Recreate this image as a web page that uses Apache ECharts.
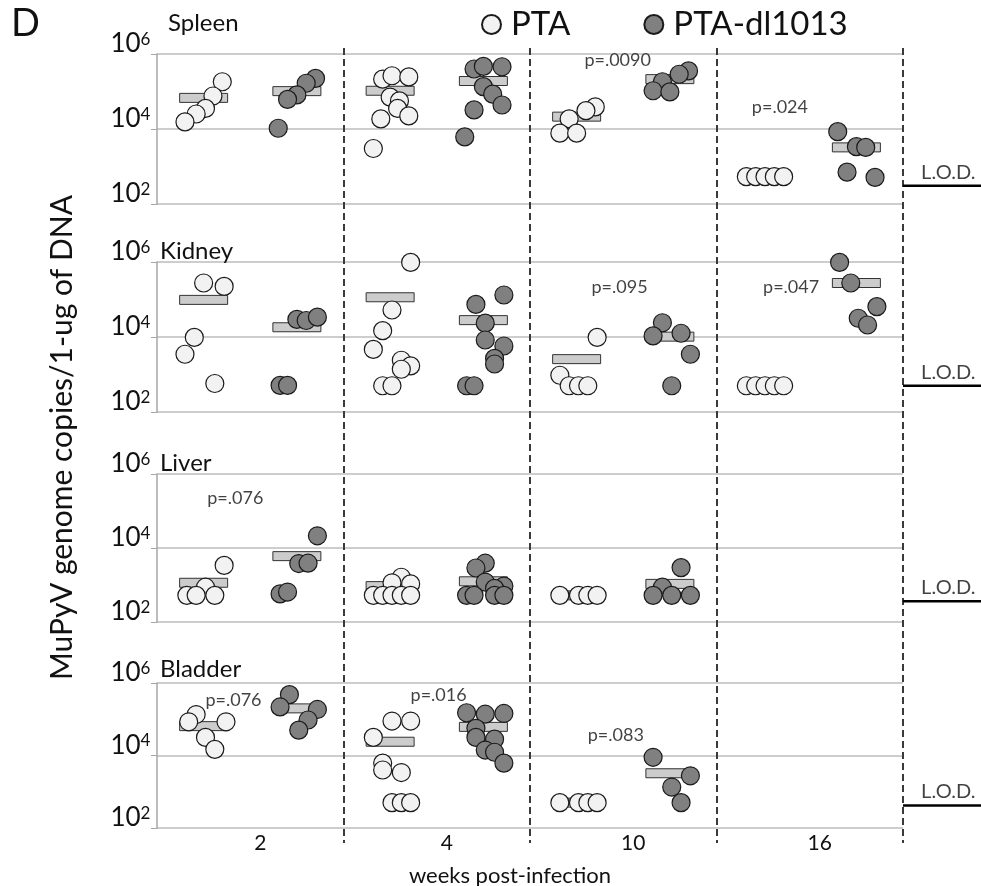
<!DOCTYPE html>
<html>
<head>
<meta charset="utf-8">
<script src="https://cdn.jsdelivr.net/npm/echarts@6/dist/echarts.min.js"></script>
<style>
  html, body { margin: 0; padding: 0; background: #fff; }
  #chart { width: 981px; height: 886px; }
</style>
</head>
<body>
<div id="chart"></div>
<script>
// weeks post-infection (x categories)
var weeks = ['2', '4', '10', '16'];
var organs = ['Spleen', 'Kidney', 'Liver', 'Bladder'];

// each mouse: [week slot + jitter, log10 genome copies]
var spleenPTA = [
  [0.35, 5.26], [0.30, 4.88], [0.26, 4.55], [0.21, 4.40], [0.15, 4.19],
  [1.21, 5.33], [1.26, 5.42], [1.35, 5.39], [1.25, 4.85], [1.30, 4.75], [1.29, 4.55], [1.35, 4.35], [1.20, 4.27], [1.16, 3.48],
  [2.35, 4.59], [2.30, 4.49], [2.21, 4.27], [2.16, 3.89], [2.25, 3.89],
  [3.16, 2.73], [3.21, 2.73], [3.26, 2.73], [3.31, 2.73], [3.36, 2.73]
];
var spleenDl = [
  [0.85, 5.35], [0.80, 5.22], [0.75, 4.91], [0.70, 4.79], [0.65, 4.02],
  [1.70, 5.60], [1.75, 5.67], [1.85, 5.66], [1.75, 5.13], [1.80, 4.93], [1.85, 4.64], [1.70, 4.51], [1.65, 3.79],
  [2.85, 5.55], [2.80, 5.46], [2.71, 5.26], [2.66, 5.02], [2.75, 4.99],
  [3.65, 3.93], [3.75, 3.53], [3.80, 3.51], [3.70, 2.85], [3.85, 2.71]
];
var kidneyPTA = [
  [0.25, 5.44], [0.36, 5.35], [0.20, 3.99], [0.15, 3.54], [0.31, 2.76],
  [1.36, 5.99], [1.26, 4.72], [1.21, 4.17], [1.16, 3.67], [1.31, 3.38], [1.36, 3.23], [1.31, 3.14], [1.21, 2.70], [1.26, 2.70],
  [2.36, 3.99], [2.16, 2.98], [2.21, 2.70], [2.26, 2.70], [2.31, 2.70],
  [3.16, 2.70], [3.21, 2.70], [3.26, 2.70], [3.31, 2.70], [3.36, 2.70]
];
var kidneyDl = [
  [0.75, 4.47], [0.80, 4.44], [0.86, 4.53], [0.66, 2.71], [0.70, 2.71],
  [1.86, 5.12], [1.71, 4.87], [1.76, 4.37], [1.76, 3.92], [1.86, 3.76], [1.81, 3.43], [1.81, 3.28], [1.66, 2.70], [1.70, 2.70],
  [2.71, 4.38], [2.66, 4.03], [2.81, 4.10], [2.86, 3.54], [2.76, 2.70],
  [3.66, 5.99], [3.72, 5.44], [3.86, 4.81], [3.76, 4.50], [3.81, 4.32]
];
var liverPTA = [
  [0.36, 3.53], [0.26, 2.94], [0.16, 2.72], [0.21, 2.72], [0.31, 2.72],
  [1.31, 3.21], [1.26, 3.06], [1.36, 3.03], [1.16, 2.72], [1.21, 2.72], [1.26, 2.72], [1.31, 2.72], [1.36, 2.72],
  [2.16, 2.72], [2.26, 2.72], [2.31, 2.72], [2.36, 2.72]
];
var liverDl = [
  [0.86, 4.33], [0.76, 3.58], [0.81, 3.59], [0.66, 2.76], [0.70, 2.81],
  [1.76, 3.59], [1.71, 3.46], [1.76, 3.08], [1.86, 2.97], [1.81, 2.91], [1.66, 2.72], [1.70, 2.72], [1.81, 2.72], [1.86, 2.72],
  [2.81, 3.47], [2.71, 2.94], [2.66, 2.72], [2.76, 2.72], [2.86, 2.72]
];
var bladderPTA = [
  [0.21, 5.13], [0.17, 4.93], [0.37, 4.93], [0.26, 4.50], [0.31, 4.17],
  [1.26, 4.95], [1.36, 4.95], [1.16, 4.50], [1.21, 3.79], [1.21, 3.60], [1.31, 3.53], [1.26, 2.70], [1.31, 2.70], [1.36, 2.70],
  [2.16, 2.70], [2.26, 2.70], [2.31, 2.70], [2.36, 2.70]
];
var bladderDl = [
  [0.71, 5.68], [0.66, 5.34], [0.86, 5.27], [0.81, 4.98], [0.76, 4.70],
  [1.66, 5.18], [1.76, 5.14], [1.86, 5.16], [1.71, 4.75], [1.71, 4.50], [1.81, 4.45], [1.76, 4.15], [1.81, 4.09], [1.86, 3.79],
  [2.66, 3.95], [2.86, 3.44], [2.76, 3.13], [2.81, 2.70]
];

// medians (log10) per week, null = none
var medianPTA = [
  [4.83, 5.02, 4.33, 2.73],
  [4.99, 5.06, 3.41, 2.70],
  [3.06, 2.97, 2.72, null],
  [4.81, 4.38, 2.70, null]
];
var medianDl = [
  [5.01, 5.28, 5.33, 3.51],
  [4.26, 4.45, 4.01, 5.44],
  [3.78, 3.10, 3.03, null],
  [5.30, 4.79, 3.51, null]
];

// limit of detection (log10) per organ
var lodLog10 = [2.49, 2.70, 2.56, 2.62];

// p-values: [x, log10, text]
var pValues = [
  [[2.47, 5.84, 'p=.0090'], [3.34, 4.59, 'p=.024']],
  [[2.48, 5.34, 'p=.095'], [3.40, 5.34, 'p=.047']],
  [[0.42, 5.35, 'p=.076']],
  [[0.41, 5.52, 'p=.076'], [1.51, 5.66, 'p=.016'], [2.46, 4.56, 'p=.083']]
];

var pointsPTA = [spleenPTA, kidneyPTA, liverPTA, bladderPTA];
var pointsDl = [spleenDl, kidneyDl, liverDl, bladderDl];

var FONT = 'Lato, "Open Sans", sans-serif';
var tops = [54, 262, 474, 683];
var heights = [150, 150, 148, 145];
var titleTops = [6, 234, 446, 652];
var titleLefts = [163, 155, 155, 155];

var grids = [], xAxes = [], yAxes = [], series = [];
var titles = [{ text: 'D', left: 6, top: 0, textStyle: { fontSize: 38, fontWeight: 'normal', fontFamily: FONT, color: '#111' } }];

function medianData(arr, off) {
  var out = [];
  arr.forEach(function (v, k) { if (v != null) out.push([k + off, v]); });
  return out;
}

// median bar: fixed-size box centred on the data point
function renderMedian(params, api) {
  var c = api.coord([api.value(0), api.value(1)]);
  return {
    type: 'rect',
    shape: { x: c[0] - 24, y: c[1] - 4.5, width: 48, height: 9 },
    style: { fill: '#cccccc', stroke: '#333', lineWidth: 1 }
  };
}

for (var i = 0; i < 4; i++) {
  grids.push({ left: 157, right: 78, top: tops[i], height: heights[i], outerBoundsMode: 'none' });
  xAxes.push({ type: 'value', gridIndex: i, min: 0, max: 4, show: false });
  yAxes.push({
    type: 'value', gridIndex: i, min: 2, max: 6, interval: 2,
    axisLine: { show: true, lineStyle: { color: '#a6a6a6', width: 1.5 } },
    axisTick: { show: true, length: 6, lineStyle: { color: '#a6a6a6', width: 1 } },
    splitLine: { show: true, lineStyle: { color: '#bdbdbd', width: 1.5 } },
    axisLabel: {
      margin: 6,
      // t is an invisible spacer that lifts the label above the tick
      formatter: function (v) { return '{b|10}{s|' + v + '}{t| }'; },
      rich: {
        b: { fontSize: 26, lineHeight: 30, fontFamily: FONT, color: '#111', verticalAlign: 'top' },
        s: { fontSize: 17, lineHeight: 22, fontFamily: FONT, color: '#111', verticalAlign: 'top' },
        t: { fontSize: 2, lineHeight: 46, color: 'rgba(0,0,0,0)' }
      }
    }
  });
  titles.push({ text: organs[i], left: titleLefts[i], top: titleTops[i],
    textStyle: { fontSize: 24, fontWeight: 'normal', fontFamily: FONT, color: '#111' } });

  series.push({
    type: 'custom', xAxisIndex: i, yAxisIndex: i, z: 2, silent: true,
    renderItem: renderMedian, encode: { x: 0, y: 1 },
    data: medianData(medianPTA[i], 0.25).concat(medianData(medianDl[i], 0.75))
  });
  series.push({
    name: 'PTA', type: 'scatter', xAxisIndex: i, yAxisIndex: i, z: 3,
    symbol: 'circle', symbolSize: 18,
    itemStyle: { color: '#f2f2f2', borderColor: '#1a1a1a', borderWidth: 1.2, opacity: 1 },
    data: pointsPTA[i]
  });
  series.push({
    name: 'PTA-dl1013', type: 'scatter', xAxisIndex: i, yAxisIndex: i, z: 3,
    symbol: 'circle', symbolSize: 18,
    itemStyle: { color: '#808080', borderColor: '#1a1a1a', borderWidth: 1.2, opacity: 1 },
    data: pointsDl[i]
  });
  series.push({
    type: 'scatter', xAxisIndex: i, yAxisIndex: i, z: 4, silent: true,
    symbolSize: 1, itemStyle: { color: 'rgba(0,0,0,0)' },
    label: { show: true, position: 'inside', formatter: function (p) { return p.value[2]; },
      fontSize: 18, fontFamily: FONT, color: '#111' },
    data: pValues[i]
  });
}

// L.O.D. side grids
for (var j = 0; j < 4; j++) {
  grids.push({ left: 903, right: 0, top: tops[j], height: heights[j], outerBoundsMode: 'none' });
  xAxes.push({ type: 'value', gridIndex: 4 + j, min: 0, max: 1, show: false });
  yAxes.push({ type: 'value', gridIndex: 4 + j, min: 2, max: 6, show: false });
  series.push({
    type: 'line', xAxisIndex: 4 + j, yAxisIndex: 4 + j, silent: true,
    symbol: 'none', lineStyle: { color: '#000', width: 2.5 },
    data: [[0, lodLog10[j]], [1, lodLog10[j]]]
  });
  series.push({
    type: 'scatter', xAxisIndex: 4 + j, yAxisIndex: 4 + j, silent: true,
    symbolSize: 1, itemStyle: { color: 'rgba(0,0,0,0)' },
    label: { show: true, position: 'top', distance: 3, formatter: 'L.O.D.',
      fontSize: 20, fontFamily: FONT, color: '#111' },
    data: [[0.58, lodLog10[j]]]
  });
}

// background grid: week separators, week labels and axis names
grids.push({ left: 157, right: 78, top: 48, bottom: 43, outerBoundsMode: 'none' });
xAxes.push({
  type: 'category', gridIndex: 8, data: weeks, boundaryGap: true,
  axisLine: { show: false }, axisTick: { show: false },
  splitLine: { show: true, showMinLine: false, lineStyle: { color: '#3a3a3a', width: 2, type: [7, 4] } },
  axisLabel: { margin: -10, fontSize: 21, fontFamily: FONT, color: '#111', padding: [0, 0, 0, 20] },
  name: 'weeks post-infection', nameLocation: 'middle', nameGap: 22,
  nameTextStyle: { fontSize: 22, fontFamily: FONT, color: '#111', padding: [0, 40, 0, 0] }
});
yAxes.push({
  type: 'value', gridIndex: 8, min: 0, max: 1,
  axisLine: { show: false }, axisTick: { show: false }, axisLabel: { show: false }, splitLine: { show: false },
  name: 'MuPyV genome copies/1-ug of DNA', nameLocation: 'middle', nameGap: 80, nameRotate: 90,
  nameTextStyle: { fontSize: 30, fontFamily: FONT, color: '#111', padding: [0, 0, 0, 16] }
});

var option = {
  backgroundColor: '#fff',
  animation: false,
  title: titles,
  legend: {
    data: ['PTA', 'PTA-dl1013'], left: 476, top: 3,
    icon: 'circle', itemWidth: 19, itemHeight: 19, itemGap: 73,
    textStyle: { fontSize: 33, fontFamily: FONT, color: '#111', padding: [0, 0, 0, 5] }
  },
  grid: grids,
  xAxis: xAxes,
  yAxis: yAxes,
  series: series
};

var myChart = echarts.init(document.getElementById('chart'));
myChart.setOption(option);
</script>
</body>
</html>
